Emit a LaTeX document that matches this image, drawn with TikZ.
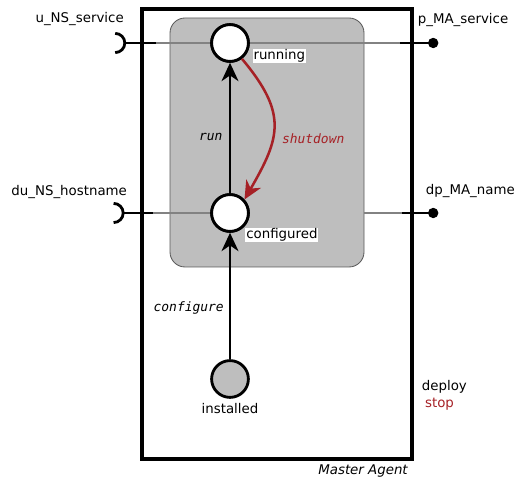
\documentclass[tikz,border=0pt]{standalone}
\usepackage{fontspec}
\setmainfont{DejaVu Sans}
\setmonofont{DejaVu Sans Mono}
\usetikzlibrary{positioning,arrows.meta}
\definecolor{agentred}{RGB}{166,33,38}
\definecolor{agentfill}{RGB}{190,190,190}
\definecolor{agentwire}{RGB}{130,130,130}
\definecolor{agentedge}{RGB}{90,90,90}

\begin{document}
\begin{tikzpicture}[font=\fontsize{9.5}{11}\selectfont,
  state/.style={circle,draw=black,line width=2pt,fill=white,
    minimum size=0.92cm,inner sep=0pt},
  statelbl/.style={fill=white,inner sep=0.6pt},
  trans/.style={-{Stealth[length=13pt,width=12pt,inset=4pt]},line width=1.8pt},
  translbl/.style={font=\fontsize{9.2}{11}\selectfont\ttfamily\itshape,
    inner sep=0pt},
  txt/.style={inner sep=0pt},
  port/.style={line width=2pt},
  wire/.style={agentwire,line width=1.3pt}]
  \useasboundingbox (0,0) rectangle (13,12.075);
  % component boxes
  \draw[line width=2.5pt] (3.55,0.6) rectangle (10.3,11.85);
  \node[draw=agentedge,fill=agentfill,rounded corners=0.375cm,line width=0.6pt,
    minimum width=4.85cm,minimum height=6.225cm,inner sep=0pt]
    (lifecycle) at (6.675,8.5125) {};
  \node[txt,font=\fontsize{9.5}{11}\selectfont\itshape,anchor=east] (agentlbl)
    at (10.2,0.3) {Master Agent};
  % ports
  \coordinate (uNS) at (2.88,11.0);
  \coordinate (uNSin) at (3.9,11.0);
  \coordinate (pMA) at (10.83,11.0);
  \coordinate (pMAin) at (10.0,11.0);
  \coordinate (duNS) at (2.84,6.75);
  \coordinate (duNSin) at (3.82,6.75);
  \coordinate (dpMA) at (10.83,6.75);
  \coordinate (dpMAin) at (10.05,6.75);
  % states
  \node[state] (running) at (5.75,11.0) {};
  \node[state] (configured) at (5.75,6.75) {};
  \node[state,fill=agentfill] (installed) at (5.75,2.6) {};
  \draw[wire] (uNSin) -- (running);
  \draw[wire] (running) -- (pMAin);
  \draw[wire] (duNSin) -- (configured);
  \draw[wire] (lifecycle.east |- configured) -- (dpMAin);
  \node[state] at (running) {};
  \node[state] at (configured) {};
  \node[statelbl,anchor=west] (runninglbl) at (6.31,10.675) {running};
  \node[statelbl,anchor=west] (configuredlbl) at (6.13,6.2) {configured};
  \node[below=0pt of installed] (installedlbl) {installed};
  % ports drawn black
  \draw[port] (uNS) ++(0,0.24) arc[start angle=90,end angle=-90,radius=0.24];
  \draw[port] (uNS) ++(0.24,0) -- (uNSin);
  \draw[port] (duNS) ++(0,0.24) arc[start angle=90,end angle=-90,radius=0.24];
  \draw[port] (duNS) ++(0.24,0) -- (duNSin);
  \draw[port] (pMAin) -- (pMA);
  \fill (pMA) circle (0.13);
  \draw[port] (dpMAin) -- (dpMA);
  \fill (dpMA) circle (0.13);
  \node[txt,anchor=east] (uNSlbl) at (3.1,11.6) {u\_NS\_service};
  \node[txt,anchor=west] (pMAlbl) at (10.44,11.58) {p\_MA\_service};
  \node[txt,anchor=east] (duNSlbl) at (3.18,7.28) {du\_NS\_hostname};
  \node[txt,anchor=west] (dpMAlbl) at (10.64,7.3) {dp\_MA\_name};
  % transitions
  \draw[trans] (installed) -- (configured);
  \node[translbl,anchor=east] (configurelbl) at (5.6,4.375) {configure};
  \draw[trans] (configured) -- (running);
  \node[translbl,anchor=east] (runlbl) at (5.57,8.66) {run};
  \draw[trans,agentred] (running.-53) to[out=-50,in=60,looseness=1.3]
    (configured.43);
  \node[translbl,agentred] (shutdownlbl) at (7.83,8.62) {shutdown};
  % operations
  \node[txt,anchor=west] (deploylbl) at (10.54,2.4) {deploy};
  \node[txt,anchor=west,agentred] (stoplbl) at (10.62,1.98) {stop};
\end{tikzpicture}
\end{document}
